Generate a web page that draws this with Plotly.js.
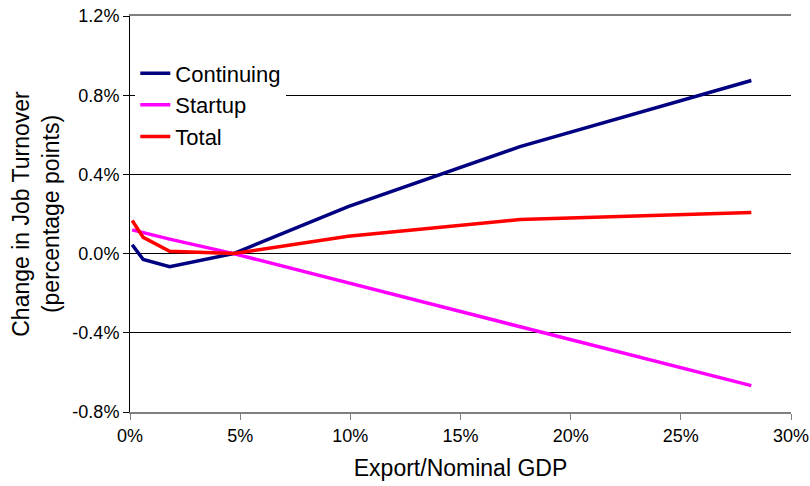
<!DOCTYPE html>
<html>
<head>
<meta charset="utf-8">
<script src="https://cdn.plot.ly/plotly-3.0.1.min.js"></script>
<style>
  html, body { margin: 0; padding: 0; background: #fff; }
  #chart { width: 810px; height: 486px; }
</style>
</head>
<body>
<div id="chart"></div>
<script>
// Export share of nominal GDP (%)
const exportShare = [0.1, 0.6, 1.8, 4.7, 9.9, 17.7, 28.2];
// Change in job turnover (percentage points)
const continuing = [0.045, -0.03, -0.066, 0.0, 0.237, 0.54, 0.874];
const startup    = [0.120, 0.105, 0.073, 0.0, -0.147, -0.37, -0.667];
const total      = [0.167, 0.082, 0.012, 0.0, 0.088, 0.172, 0.207];

const seriesNames  = ['Continuing', 'Startup', 'Total'];
const seriesColors = ['#000080', '#FF00FF', '#FF0000'];

const yTickVals = [-0.8, -0.4, 0.0, 0.4, 0.8, 1.2];
const yTickText = ['-0.8%', '-0.4%', '0.0%', '0.4%', '0.8%', '1.2%'];
const xTickVals = [0, 5, 10, 15, 20, 25, 30];
const xTickText = ['0%', '5%', '10%', '15%', '20%', '25%', '30%'];

const font = "'Liberation Sans', Arial, sans-serif";

const traces = [continuing, startup, total].map((ys, i) => ({
  x: exportShare,
  y: ys,
  type: 'scatter',
  mode: 'lines',
  name: seriesNames[i],
  line: { color: seriesColors[i], width: 3.5 }
}));

const layout = {
  width: 810,
  height: 486,
  margin: { l: 130, r: 19, t: 16, b: 74 },
  paper_bgcolor: '#fff',
  plot_bgcolor: '#fff',
  font: { family: font, color: '#000', size: 18 },
  showlegend: true,
  legend: {
    x: 0.008, y: 0.908, xanchor: 'left', yanchor: 'top',
    bgcolor: '#fff',
    font: { family: font, size: 22, color: '#000' },
    tracegroupgap: 0
  },
  xaxis: {
    range: [0, 30],
    tickvals: xTickVals,
    ticktext: xTickText,
    ticks: 'outside', ticklen: 6, tickcolor: '#808080',
    showline: true, linecolor: '#808080', linewidth: 2, mirror: true,
    showgrid: false, zeroline: false,
    tickfont: { family: font, size: 18 },
    title: { text: 'Export/Nominal GDP', font: { family: font, size: 23 }, standoff: 15 }
  },
  yaxis: {
    range: [-0.8, 1.2],
    tickvals: yTickVals,
    ticktext: yTickText,
    ticks: 'outside', ticklen: 6, tickcolor: '#000',
    showline: true, linecolor: '#000', linewidth: 1,
    showgrid: true, gridcolor: '#000', gridwidth: 1,
    zeroline: false,
    tickfont: { family: font, size: 18 },
    title: { text: 'Change in Job Turnover<br>(percentage points)', font: { family: font, size: 23 }, standoff: 6 }
  }
};

Plotly.newPlot('chart', traces, layout, { displayModeBar: false, staticPlot: true });
</script>
</body>
</html>
